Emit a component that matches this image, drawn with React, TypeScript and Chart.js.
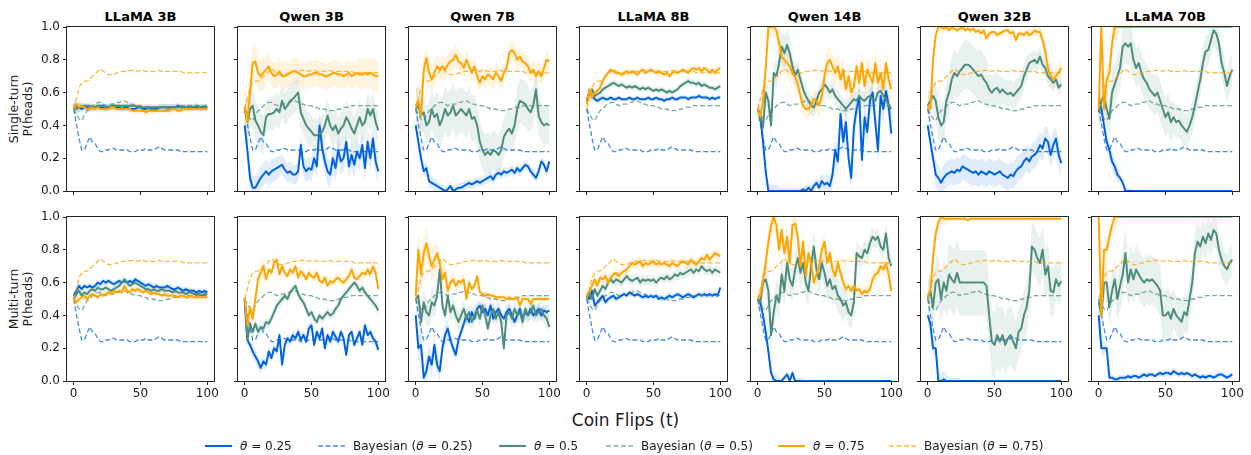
import React, { useEffect, useRef } from 'react';
import { Chart, registerables } from 'chart.js';

Chart.register(...registerables);
Chart.defaults.font.family = "'DejaVu Sans', sans-serif";

// ---------- axis / labels ----------
const FLIPS = [
  0, 2, 4, 6, 8, 10, 12, 14, 16, 18,
  20, 22, 24, 26, 28, 30, 32, 34, 36, 38,
  40, 42, 44, 46, 48, 50, 52, 54, 56, 58,
  60, 62, 64, 66, 68, 70, 72, 74, 76, 78,
  80, 82, 84, 86, 88, 90, 92, 94, 96, 98,
  100,
];
const X_TICKS = [0, 50, 100];
const Y_TICKS = [0, 0.2, 0.4, 0.6, 0.8, 1.0];
const MODELS = ['LLaMA 3B', 'Qwen 3B', 'Qwen 7B', 'LLaMA 8B', 'Qwen 14B', 'Qwen 32B', 'LLaMA 70B'];
const ROW_LABELS = [['Single-turn', 'P(heads)'], ['Multi-turn', 'P(heads)']];
const X_LABEL = 'Coin Flips (t)';

// ---------- Bayesian reference curves (same in every panel) ----------
const BAYES_025 = [
  0.50, 0.41, 0.32, 0.25, 0.25, 0.29, 0.33, 0.30, 0.29, 0.26,
  0.24, 0.24, 0.25, 0.25, 0.26, 0.26, 0.25, 0.25, 0.25, 0.25,
  0.25, 0.24, 0.24, 0.24, 0.25, 0.25, 0.25, 0.26, 0.25, 0.25,
  0.25, 0.26, 0.27, 0.26, 0.25, 0.25, 0.25, 0.25, 0.25, 0.25,
  0.24, 0.24, 0.24, 0.24, 0.24, 0.24, 0.24, 0.24, 0.24, 0.24,
  0.24,
];
const BAYES_050 = [
  0.50, 0.47, 0.44, 0.43, 0.46, 0.49, 0.50, 0.52, 0.53, 0.54,
  0.54, 0.53, 0.52, 0.53, 0.53, 0.53, 0.54, 0.54, 0.55, 0.55,
  0.54, 0.53, 0.53, 0.52, 0.52, 0.52, 0.51, 0.51, 0.50, 0.50,
  0.50, 0.49, 0.49, 0.49, 0.49, 0.50, 0.50, 0.51, 0.51, 0.51,
  0.52, 0.52, 0.52, 0.52, 0.52, 0.52, 0.52, 0.52, 0.52, 0.52,
  0.52,
];
const BAYES_075 = [
  0.50, 0.56, 0.63, 0.66, 0.67, 0.67, 0.68, 0.70, 0.71, 0.73,
  0.745, 0.73, 0.72, 0.71, 0.71, 0.71, 0.72, 0.72, 0.73, 0.73,
  0.73, 0.735, 0.735, 0.735, 0.73, 0.735, 0.735, 0.73, 0.73, 0.73,
  0.73, 0.73, 0.735, 0.73, 0.73, 0.73, 0.73, 0.73, 0.73, 0.73,
  0.73, 0.72, 0.72, 0.72, 0.72, 0.72, 0.72, 0.72, 0.72, 0.72,
  0.72,
];

// ---------- Single-turn ----------
const ST_LLAMA3B_T25 = [
  0.52, 0.51, 0.51, 0.50, 0.51, 0.51, 0.50, 0.51, 0.51, 0.51,
  0.51, 0.51, 0.51, 0.51, 0.51, 0.51, 0.51, 0.51, 0.50, 0.51,
  0.51, 0.50, 0.50, 0.50, 0.51, 0.51, 0.50, 0.50, 0.51, 0.50,
  0.50, 0.50, 0.51, 0.51, 0.51, 0.51, 0.51, 0.51, 0.51, 0.52,
  0.51, 0.51, 0.51, 0.51, 0.51, 0.51, 0.51, 0.51, 0.51, 0.51,
  0.51,
];
const ST_LLAMA3B_T50 = [
  0.52, 0.50, 0.51, 0.52, 0.52, 0.52, 0.52, 0.51, 0.51, 0.52,
  0.52, 0.52, 0.51, 0.51, 0.52, 0.52, 0.52, 0.52, 0.52, 0.52,
  0.52, 0.52, 0.52, 0.52, 0.51, 0.51, 0.51, 0.51, 0.51, 0.51,
  0.51, 0.51, 0.51, 0.51, 0.51, 0.51, 0.51, 0.51, 0.51, 0.51,
  0.51, 0.51, 0.51, 0.51, 0.51, 0.51, 0.52, 0.51, 0.51, 0.51,
  0.51,
];
const ST_LLAMA3B_T75 = [
  0.50, 0.53, 0.51, 0.52, 0.51, 0.50, 0.50, 0.51, 0.50, 0.51,
  0.50, 0.50, 0.50, 0.50, 0.51, 0.51, 0.50, 0.50, 0.50, 0.50,
  0.50, 0.50, 0.49, 0.49, 0.49, 0.49, 0.49, 0.48, 0.49, 0.49,
  0.49, 0.49, 0.49, 0.49, 0.49, 0.49, 0.49, 0.50, 0.50, 0.49,
  0.49, 0.50, 0.50, 0.50, 0.50, 0.50, 0.50, 0.50, 0.50, 0.50,
  0.50,
];
const ST_LLAMA3B_T25_BAND = [0.03, 0.02, 0.02, 0.02, 0.02, 0.02, 0.02, 0.02, 0.02, 0.02, 0.02];
const ST_LLAMA3B_T50_BAND = [0.03, 0.02, 0.02, 0.02, 0.02, 0.02, 0.02, 0.02, 0.02, 0.02, 0.02];
const ST_LLAMA3B_T75_BAND = [0.03, 0.02, 0.02, 0.02, 0.02, 0.02, 0.02, 0.02, 0.02, 0.02, 0.02];

const ST_QWEN3B_T25 = [
  0.40, 0.25, 0.08, 0.02, 0.02, 0.05, 0.08, 0.10, 0.12, 0.10,
  0.12, 0.13, 0.14, 0.15, 0.16, 0.13, 0.11, 0.12, 0.10, 0.10,
  0.12, 0.28, 0.15, 0.12, 0.14, 0.13, 0.20, 0.15, 0.40, 0.26,
  0.18, 0.12, 0.10, 0.20, 0.14, 0.25, 0.18, 0.20, 0.30, 0.15,
  0.22, 0.16, 0.24, 0.20, 0.28, 0.14, 0.30, 0.20, 0.32, 0.18,
  0.12,
];
const ST_QWEN3B_T50 = [
  0.50, 0.42, 0.50, 0.52, 0.43, 0.40, 0.36, 0.34, 0.45, 0.47,
  0.47, 0.48, 0.50, 0.48, 0.55, 0.50, 0.52, 0.55, 0.56, 0.58,
  0.60, 0.48, 0.44, 0.40, 0.38, 0.36, 0.34, 0.34, 0.35, 0.36,
  0.40, 0.46, 0.40, 0.37, 0.40, 0.35, 0.38, 0.40, 0.45, 0.42,
  0.38, 0.35, 0.40, 0.45, 0.40, 0.42, 0.50, 0.46, 0.50, 0.42,
  0.37,
];
const ST_QWEN3B_T75 = [
  0.52, 0.42, 0.60, 0.78, 0.79, 0.72, 0.70, 0.72, 0.74, 0.76,
  0.72, 0.70, 0.71, 0.73, 0.70, 0.70, 0.71, 0.72, 0.73, 0.73,
  0.72, 0.71, 0.70, 0.70, 0.71, 0.71, 0.72, 0.72, 0.71, 0.71,
  0.70, 0.70, 0.71, 0.72, 0.72, 0.71, 0.71, 0.70, 0.71, 0.72,
  0.70, 0.71, 0.72, 0.71, 0.71, 0.72, 0.71, 0.72, 0.71, 0.70,
  0.70,
];
const ST_QWEN3B_T25_BAND = [0.06, 0.07, 0.07, 0.06, 0.06, 0.07, 0.08, 0.08, 0.08, 0.08, 0.08];
const ST_QWEN3B_T50_BAND = [0.12, 0.12, 0.1, 0.1, 0.1, 0.1, 0.1, 0.1, 0.1, 0.1, 0.1];
const ST_QWEN3B_T75_BAND = [0.15, 0.1, 0.08, 0.08, 0.08, 0.08, 0.08, 0.08, 0.08, 0.09, 0.1];

const ST_QWEN7B_T25 = [
  0.40, 0.30, 0.20, 0.12, 0.14, 0.06, 0.05, 0.04, 0.03, 0.02,
  0.01, 0.00, 0.01, 0.03, 0.00, 0.01, 0.02, 0.02, 0.03, 0.04,
  0.05, 0.04, 0.05, 0.06, 0.05, 0.06, 0.07, 0.08, 0.09, 0.07,
  0.10, 0.11, 0.10, 0.12, 0.11, 0.12, 0.13, 0.11, 0.14, 0.12,
  0.14, 0.16, 0.15, 0.12, 0.10, 0.08, 0.12, 0.18, 0.16, 0.12,
  0.18,
];
const ST_QWEN7B_T50 = [
  0.50, 0.52, 0.46, 0.48, 0.40, 0.42, 0.50, 0.45, 0.47, 0.40,
  0.44, 0.50, 0.46, 0.48, 0.52, 0.46, 0.48, 0.50, 0.48, 0.46,
  0.50, 0.44, 0.45, 0.40, 0.30, 0.25, 0.22, 0.24, 0.22, 0.25,
  0.24, 0.22, 0.25, 0.33, 0.36, 0.38, 0.35, 0.40, 0.50, 0.55,
  0.54, 0.53, 0.50, 0.48, 0.52, 0.62, 0.46, 0.42, 0.40, 0.41,
  0.40,
];
const ST_QWEN7B_T75 = [
  0.52, 0.55, 0.46, 0.74, 0.81, 0.72, 0.68, 0.72, 0.76, 0.74,
  0.76, 0.74, 0.77, 0.79, 0.80, 0.83, 0.79, 0.78, 0.75, 0.80,
  0.76, 0.72, 0.76, 0.70, 0.66, 0.70, 0.68, 0.71, 0.70, 0.68,
  0.72, 0.70, 0.67, 0.72, 0.75, 0.84, 0.86, 0.84, 0.80, 0.82,
  0.79, 0.78, 0.76, 0.72, 0.74, 0.70, 0.73, 0.70, 0.75, 0.80,
  0.79,
];
const ST_QWEN7B_T25_BAND = [0.05, 0.04, 0.03, 0.03, 0.03, 0.03, 0.03, 0.03, 0.03, 0.03, 0.03];
const ST_QWEN7B_T50_BAND = [0.12, 0.12, 0.14, 0.14, 0.14, 0.12, 0.12, 0.12, 0.14, 0.12, 0.12];
const ST_QWEN7B_T75_BAND = [0.1, 0.08, 0.07, 0.07, 0.06, 0.06, 0.06, 0.06, 0.06, 0.06, 0.06];

const ST_LLAMA8B_T25 = [
  0.55, 0.60, 0.58, 0.56, 0.55, 0.56, 0.57, 0.56, 0.56, 0.57,
  0.56, 0.56, 0.57, 0.56, 0.56, 0.56, 0.57, 0.56, 0.56, 0.57,
  0.56, 0.56, 0.56, 0.57, 0.56, 0.56, 0.57, 0.56, 0.56, 0.55,
  0.56, 0.56, 0.57, 0.56, 0.56, 0.57, 0.57, 0.57, 0.56, 0.57,
  0.57, 0.57, 0.58, 0.57, 0.57, 0.57, 0.56, 0.57, 0.56, 0.57,
  0.57,
];
const ST_LLAMA8B_T50 = [
  0.55, 0.60, 0.62, 0.58, 0.59, 0.60, 0.62, 0.63, 0.64, 0.65,
  0.66, 0.65, 0.64, 0.65, 0.64, 0.63, 0.64, 0.63, 0.64, 0.63,
  0.62, 0.63, 0.62, 0.63, 0.62, 0.61, 0.62, 0.61, 0.62, 0.61,
  0.60, 0.61, 0.60, 0.61, 0.62, 0.64, 0.65, 0.66, 0.67, 0.66,
  0.66, 0.65, 0.66, 0.64, 0.65, 0.64, 0.63, 0.63, 0.62, 0.63,
  0.64,
];
const ST_LLAMA8B_T75 = [
  0.53, 0.62, 0.57, 0.60, 0.61, 0.63, 0.67, 0.70, 0.72, 0.74,
  0.73, 0.72, 0.72, 0.71, 0.72, 0.73, 0.72, 0.73, 0.72, 0.71,
  0.73, 0.74, 0.72, 0.73, 0.74, 0.73, 0.72, 0.73, 0.72, 0.71,
  0.72, 0.70, 0.72, 0.73, 0.72, 0.73, 0.74, 0.73, 0.72, 0.74,
  0.75, 0.74, 0.75, 0.73, 0.75, 0.74, 0.72, 0.74, 0.72, 0.74,
  0.75,
];
const ST_LLAMA8B_T25_BAND = [0.03, 0.02, 0.015, 0.015, 0.015, 0.015, 0.015, 0.015, 0.015, 0.015, 0.015];
const ST_LLAMA8B_T50_BAND = [0.03, 0.025, 0.02, 0.02, 0.02, 0.02, 0.02, 0.02, 0.02, 0.02, 0.02];
const ST_LLAMA8B_T75_BAND = [0.03, 0.02, 0.02, 0.02, 0.02, 0.02, 0.02, 0.02, 0.02, 0.02, 0.02];

const ST_QWEN14B_T25 = [
  0.50, 0.46, 0.30, 0.12, 0.00, 0.00, 0.00, 0.00, 0.00, 0.00,
  0.00, 0.00, 0.00, 0.00, 0.00, 0.00, 0.00, 0.01, 0.00, 0.02,
  0.00, 0.03, 0.05, 0.02, 0.06, 0.04, 0.05, 0.03, 0.10, 0.25,
  0.18, 0.47, 0.30, 0.42, 0.20, 0.08, 0.39, 0.50, 0.57, 0.19,
  0.45, 0.36, 0.55, 0.60, 0.42, 0.25, 0.58, 0.50, 0.61, 0.52,
  0.35,
];
const ST_QWEN14B_T50 = [
  0.50, 0.45, 0.39, 0.60, 0.55, 0.40, 0.72, 0.70, 0.78, 0.88,
  0.84, 0.89, 0.84, 0.76, 0.70, 0.74, 0.68, 0.62, 0.58, 0.55,
  0.52, 0.51, 0.55, 0.60, 0.62, 0.65, 0.63, 0.60, 0.62, 0.58,
  0.56, 0.54, 0.52, 0.50, 0.52, 0.54, 0.56, 0.55, 0.58, 0.56,
  0.55, 0.57, 0.58, 0.56, 0.55, 0.60, 0.61, 0.58, 0.56, 0.52,
  0.50,
];
const ST_QWEN14B_T75 = [
  0.50, 0.45, 0.55, 0.75, 1.00, 1.00, 1.00, 0.98, 0.90, 0.82,
  0.80, 0.78, 0.76, 0.72, 0.70, 0.65, 0.58, 0.52, 0.50, 0.50,
  0.52, 0.56, 0.55, 0.52, 0.58, 0.70, 0.78, 0.80, 0.76, 0.72,
  0.76, 0.68, 0.74, 0.62, 0.70, 0.60, 0.64, 0.76, 0.66, 0.78,
  0.64, 0.74, 0.70, 0.66, 0.78, 0.66, 0.72, 0.62, 0.78, 0.68,
  0.62,
];
const ST_QWEN14B_T25_BAND = [0.04, 0.04, 0.02, 0.02, 0.03, 0.05, 0.08, 0.08, 0.08, 0.08, 0.08];
const ST_QWEN14B_T50_BAND = [0.06, 0.08, 0.1, 0.06, 0.06, 0.05, 0.05, 0.05, 0.05, 0.05, 0.05];
const ST_QWEN14B_T75_BAND = [0.06, 0.06, 0.08, 0.06, 0.06, 0.08, 0.08, 0.08, 0.08, 0.08, 0.08];

const ST_QWEN32B_T25 = [
  0.40, 0.30, 0.20, 0.10, 0.08, 0.05, 0.08, 0.10, 0.11, 0.12,
  0.11, 0.13, 0.12, 0.15, 0.14, 0.13, 0.12, 0.11, 0.12, 0.10,
  0.12, 0.11, 0.10, 0.12, 0.11, 0.10, 0.11, 0.12, 0.10, 0.09,
  0.08, 0.10, 0.09, 0.12, 0.14, 0.15, 0.18, 0.20, 0.18, 0.21,
  0.22, 0.24, 0.28, 0.26, 0.32, 0.30, 0.22, 0.28, 0.32, 0.22,
  0.17,
];
const ST_QWEN32B_T50 = [
  0.52, 0.55, 0.58, 0.55, 0.45, 0.40, 0.42, 0.55, 0.60, 0.68,
  0.72, 0.70, 0.73, 0.75, 0.77, 0.77, 0.76, 0.74, 0.72, 0.70,
  0.71, 0.68, 0.66, 0.62, 0.60, 0.62, 0.63, 0.60, 0.62, 0.60,
  0.59, 0.60, 0.58, 0.60, 0.62, 0.64, 0.70, 0.74, 0.78, 0.79,
  0.80, 0.78, 0.82, 0.77, 0.75, 0.70, 0.68, 0.66, 0.68, 0.63,
  0.65,
];
const ST_QWEN32B_T75 = [
  0.52, 0.50, 0.80, 0.95, 1.00, 1.00, 0.99, 1.00, 0.98, 1.00,
  0.99, 0.98, 0.99, 1.00, 0.98, 0.99, 0.98, 0.99, 0.97, 0.98,
  0.96, 0.98, 0.93, 0.96, 0.97, 0.97, 0.95, 0.96, 0.97, 0.98,
  0.98, 0.96, 0.97, 0.92, 0.96, 0.96, 0.95, 0.97, 0.95, 0.96,
  0.98, 0.97, 0.97, 0.92, 0.85, 0.75, 0.70, 0.68, 0.70, 0.72,
  0.75,
];
const ST_QWEN32B_T25_BAND = [0.05, 0.08, 0.08, 0.08, 0.08, 0.08, 0.08, 0.08, 0.08, 0.08, 0.08];
const ST_QWEN32B_T50_BAND = [0.08, 0.12, 0.14, 0.15, 0.15, 0.1, 0.08, 0.08, 0.06, 0.06, 0.05];
const ST_QWEN32B_T75_BAND = [0.1, 0.03, 0.02, 0.02, 0.02, 0.02, 0.02, 0.02, 0.03, 0.06, 0.06];

const ST_LLAMA70B_T25 = [
  0.57, 0.50, 0.40, 0.30, 0.25, 0.18, 0.15, 0.10, 0.08, 0.05,
  0.00, 0.00, 0.00, 0.00, 0.00, 0.00, 0.00, 0.00, 0.00, 0.00,
  0.00, 0.00, 0.00, 0.00, 0.00, 0.00, 0.00, 0.00, 0.00, 0.00,
  0.00, 0.00, 0.00, 0.00, 0.00, 0.00, 0.00, 0.00, 0.00, 0.00,
  0.00, 0.00, 0.00, 0.00, 0.00, 0.00, 0.00, 0.00, 0.00, 0.00,
  0.00,
];
const ST_LLAMA70B_T50 = [
  0.48, 0.55, 0.58, 0.50, 0.44, 0.60, 0.65, 0.70, 0.75, 0.88,
  0.90, 0.88, 0.90, 0.80, 0.75, 0.78, 0.72, 0.68, 0.66, 0.62,
  0.60, 0.58, 0.60, 0.55, 0.50, 0.45, 0.48, 0.42, 0.45, 0.42,
  0.43, 0.40, 0.38, 0.36, 0.40, 0.45, 0.52, 0.60, 0.68, 0.78,
  0.85, 0.86, 0.92, 0.98, 0.96, 0.90, 0.78, 0.72, 0.64, 0.70,
  0.74,
];
const ST_LLAMA70B_T75 = [
  0.50, 1.00, 0.50, 0.68, 0.72, 0.90, 1.00, 1.00, 1.00, 1.00,
  1.00, 1.00, 1.00, 1.00, 1.00, 1.00, 1.00, 1.00, 1.00, 1.00,
  1.00, 1.00, 1.00, 1.00, 1.00, 1.00, 1.00, 1.00, 1.00, 1.00,
  1.00, 1.00, 1.00, 1.00, 1.00, 1.00, 1.00, 1.00, 1.00, 1.00,
  1.00, 1.00, 1.00, 1.00, 1.00, 1.00, 1.00, 1.00, 1.00, 1.00,
  1.00,
];
const ST_LLAMA70B_T25_BAND = [0.05, 0.05, 0.02, 0, 0, 0, 0, 0, 0, 0, 0];
const ST_LLAMA70B_T50_BAND = [0.1, 0.12, 0.12, 0.12, 0.12, 0.12, 0.1, 0.1, 0.1, 0.1, 0.1];
const ST_LLAMA70B_T75_BAND = [0.1, 0.08, 0, 0, 0, 0, 0, 0, 0, 0, 0];

// ---------- Multi-turn ----------
const MT_LLAMA3B_T25 = [
  0.52, 0.55, 0.58, 0.56, 0.58, 0.57, 0.58, 0.57, 0.58, 0.60,
  0.59, 0.61, 0.60, 0.61, 0.60, 0.59, 0.60, 0.61, 0.60, 0.61,
  0.60, 0.61, 0.60, 0.62, 0.61, 0.60, 0.59, 0.58, 0.59, 0.58,
  0.57, 0.58, 0.57, 0.57, 0.57, 0.58, 0.57, 0.56, 0.56, 0.57,
  0.56, 0.55, 0.56, 0.55, 0.55, 0.55, 0.54, 0.55, 0.54, 0.55,
  0.54,
];
const MT_LLAMA3B_T50 = [
  0.50, 0.53, 0.55, 0.52, 0.54, 0.53, 0.55, 0.56, 0.55, 0.57,
  0.56, 0.56, 0.57, 0.56, 0.55, 0.56, 0.57, 0.58, 0.60, 0.62,
  0.60, 0.58, 0.59, 0.60, 0.59, 0.58, 0.57, 0.56, 0.56, 0.55,
  0.56, 0.55, 0.55, 0.56, 0.55, 0.55, 0.55, 0.54, 0.55, 0.54,
  0.54, 0.54, 0.53, 0.54, 0.54, 0.53, 0.53, 0.53, 0.52, 0.53,
  0.53,
];
const MT_LLAMA3B_T75 = [
  0.50, 0.48, 0.50, 0.51, 0.52, 0.50, 0.52, 0.53, 0.52, 0.51,
  0.53, 0.52, 0.53, 0.54, 0.53, 0.55, 0.54, 0.55, 0.54, 0.58,
  0.55, 0.54, 0.56, 0.55, 0.56, 0.55, 0.54, 0.55, 0.54, 0.53,
  0.54, 0.53, 0.53, 0.52, 0.53, 0.52, 0.52, 0.52, 0.52, 0.51,
  0.52, 0.52, 0.51, 0.51, 0.52, 0.51, 0.51, 0.51, 0.51, 0.51,
  0.51,
];
const MT_LLAMA3B_T25_BAND = [0.03, 0.02, 0.02, 0.02, 0.02, 0.02, 0.02, 0.02, 0.02, 0.02, 0.02];
const MT_LLAMA3B_T50_BAND = [0.03, 0.02, 0.02, 0.02, 0.02, 0.02, 0.02, 0.02, 0.02, 0.02, 0.02];
const MT_LLAMA3B_T75_BAND = [0.03, 0.02, 0.02, 0.02, 0.02, 0.02, 0.02, 0.02, 0.02, 0.02, 0.02];

const MT_QWEN3B_T25 = [
  0.50, 0.25, 0.22, 0.18, 0.15, 0.12, 0.08, 0.12, 0.10, 0.18,
  0.14, 0.20, 0.18, 0.28, 0.10, 0.22, 0.26, 0.24, 0.28, 0.26,
  0.30, 0.25, 0.28, 0.24, 0.32, 0.34, 0.22, 0.30, 0.26, 0.32,
  0.20, 0.28, 0.24, 0.30, 0.27, 0.24, 0.30, 0.26, 0.16, 0.28,
  0.30, 0.22, 0.26, 0.30, 0.22, 0.34, 0.28, 0.30, 0.26, 0.24,
  0.19,
];
const MT_QWEN3B_T50 = [
  0.50, 0.25, 0.35, 0.30, 0.35, 0.30, 0.33, 0.32, 0.36, 0.35,
  0.38, 0.42, 0.46, 0.48, 0.50, 0.52, 0.50, 0.54, 0.56, 0.58,
  0.53, 0.50, 0.48, 0.44, 0.40, 0.42, 0.38, 0.36, 0.40, 0.38,
  0.40, 0.42, 0.40, 0.41, 0.44, 0.46, 0.50, 0.52, 0.54, 0.56,
  0.58, 0.60, 0.58, 0.55, 0.57, 0.54, 0.52, 0.50, 0.48, 0.46,
  0.43,
];
const MT_QWEN3B_T75 = [
  0.51, 0.34, 0.45, 0.38, 0.50, 0.62, 0.66, 0.70, 0.62, 0.68,
  0.66, 0.72, 0.74, 0.65, 0.70, 0.66, 0.64, 0.68, 0.66, 0.70,
  0.63, 0.67, 0.65, 0.62, 0.66, 0.64, 0.63, 0.66, 0.61, 0.60,
  0.63, 0.58, 0.61, 0.60, 0.62, 0.63, 0.61, 0.60, 0.62, 0.64,
  0.68, 0.63, 0.62, 0.64, 0.66, 0.65, 0.68, 0.65, 0.70, 0.66,
  0.56,
];
const MT_QWEN3B_T25_BAND = [0.03, 0.04, 0.03, 0.03, 0.03, 0.03, 0.03, 0.03, 0.03, 0.03, 0.03];
const MT_QWEN3B_T50_BAND = [0.04, 0.04, 0.03, 0.03, 0.03, 0.03, 0.03, 0.03, 0.03, 0.03, 0.03];
const MT_QWEN3B_T75_BAND = [0.04, 0.05, 0.03, 0.03, 0.03, 0.03, 0.03, 0.03, 0.03, 0.03, 0.03];

const MT_QWEN7B_T25 = [
  0.40, 0.20, 0.22, 0.02, 0.06, 0.15, 0.10, 0.22, 0.10, 0.06,
  0.20, 0.28, 0.32, 0.25, 0.20, 0.16, 0.25, 0.30, 0.35, 0.40,
  0.36, 0.42, 0.38, 0.44, 0.46, 0.42, 0.44, 0.40, 0.46, 0.38,
  0.42, 0.44, 0.40, 0.38, 0.42, 0.44, 0.40, 0.36, 0.40, 0.44,
  0.38, 0.42, 0.40, 0.44, 0.40, 0.42, 0.44, 0.40, 0.43, 0.42,
  0.43,
];
const MT_QWEN7B_T50 = [
  0.50, 0.52, 0.36, 0.48, 0.42, 0.40, 0.48, 0.46, 0.52, 0.68,
  0.46, 0.40, 0.52, 0.42, 0.46, 0.40, 0.36, 0.40, 0.44, 0.38,
  0.42, 0.36, 0.40, 0.43, 0.38, 0.46, 0.40, 0.32, 0.40, 0.44,
  0.38, 0.42, 0.36, 0.20, 0.40, 0.42, 0.38, 0.44, 0.40, 0.42,
  0.36, 0.44, 0.40, 0.42, 0.46, 0.40, 0.42, 0.44, 0.40, 0.38,
  0.33,
];
const MT_QWEN7B_T75 = [
  0.52, 0.80, 0.65, 0.78, 0.84, 0.76, 0.70, 0.74, 0.78, 0.72,
  0.62, 0.66, 0.55, 0.60, 0.62, 0.58, 0.61, 0.60, 0.62, 0.50,
  0.60, 0.56, 0.58, 0.64, 0.54, 0.53, 0.52, 0.53, 0.52, 0.52,
  0.51, 0.51, 0.51, 0.51, 0.50, 0.51, 0.50, 0.50, 0.51, 0.46,
  0.50, 0.50, 0.50, 0.47, 0.50, 0.50, 0.50, 0.50, 0.50, 0.50,
  0.50,
];
const MT_QWEN7B_T25_BAND = [0.08, 0.08, 0.06, 0.04, 0.04, 0.04, 0.04, 0.04, 0.04, 0.04, 0.04];
const MT_QWEN7B_T50_BAND = [0.1, 0.08, 0.06, 0.06, 0.05, 0.05, 0.05, 0.05, 0.05, 0.05, 0.05];
const MT_QWEN7B_T75_BAND = [0.12, 0.1, 0.06, 0.04, 0.03, 0.02, 0.02, 0.02, 0.02, 0.02, 0.02];

const MT_LLAMA8B_T25 = [
  0.52, 0.50, 0.55, 0.46, 0.48, 0.50, 0.52, 0.48, 0.50, 0.51,
  0.52, 0.50, 0.51, 0.52, 0.53, 0.52, 0.54, 0.53, 0.52, 0.53,
  0.52, 0.51, 0.52, 0.51, 0.52, 0.51, 0.52, 0.50, 0.51, 0.50,
  0.51, 0.52, 0.51, 0.52, 0.53, 0.52, 0.51, 0.52, 0.53, 0.52,
  0.51, 0.52, 0.53, 0.52, 0.53, 0.52, 0.53, 0.52, 0.53, 0.52,
  0.57,
];
const MT_LLAMA8B_T50 = [
  0.50, 0.54, 0.50, 0.56, 0.52, 0.55, 0.58, 0.56, 0.60, 0.62,
  0.60, 0.62, 0.61, 0.60, 0.62, 0.64, 0.62, 0.61, 0.62, 0.63,
  0.60, 0.62, 0.61, 0.62, 0.61, 0.62, 0.60, 0.62, 0.63, 0.62,
  0.64, 0.62, 0.63, 0.65, 0.64, 0.66, 0.65, 0.66, 0.67, 0.68,
  0.66, 0.68, 0.67, 0.70, 0.68, 0.67, 0.68, 0.66, 0.68, 0.67,
  0.66,
];
const MT_LLAMA8B_T75 = [
  0.52, 0.55, 0.58, 0.62, 0.58, 0.63, 0.62, 0.64, 0.60, 0.63,
  0.65, 0.66, 0.64, 0.66, 0.67, 0.68, 0.70, 0.72, 0.71, 0.72,
  0.73, 0.70, 0.72, 0.71, 0.72, 0.73, 0.71, 0.72, 0.71, 0.72,
  0.71, 0.70, 0.72, 0.71, 0.70, 0.72, 0.73, 0.72, 0.71, 0.74,
  0.72, 0.71, 0.73, 0.75, 0.74, 0.77, 0.74, 0.76, 0.78, 0.77,
  0.76,
];
const MT_LLAMA8B_T25_BAND = [0.03, 0.02, 0.02, 0.02, 0.02, 0.02, 0.02, 0.02, 0.02, 0.02, 0.02];
const MT_LLAMA8B_T50_BAND = [0.03, 0.03, 0.03, 0.03, 0.03, 0.03, 0.03, 0.03, 0.03, 0.03, 0.03];
const MT_LLAMA8B_T75_BAND = [0.03, 0.03, 0.03, 0.03, 0.03, 0.03, 0.03, 0.03, 0.03, 0.03, 0.03];

const MT_QWEN14B_T25 = [
  0.50, 0.48, 0.40, 0.30, 0.18, 0.05, 0.01, 0.00, 0.00, 0.00,
  0.02, 0.04, 0.00, 0.05, 0.00, 0.00, 0.00, 0.00, 0.00, 0.00,
  0.00, 0.00, 0.00, 0.00, 0.00, 0.00, 0.00, 0.00, 0.00, 0.00,
  0.00, 0.00, 0.00, 0.00, 0.00, 0.00, 0.00, 0.00, 0.00, 0.00,
  0.00, 0.00, 0.00, 0.00, 0.00, 0.00, 0.00, 0.00, 0.00, 0.00,
  0.00,
];
const MT_QWEN14B_T50 = [
  0.50, 0.48, 0.60, 0.62, 0.55, 0.28, 0.42, 0.52, 0.48, 0.65,
  0.55, 0.72, 0.62, 0.58, 0.68, 0.75, 0.66, 0.72, 0.60, 0.55,
  0.70, 0.82, 0.68, 0.62, 0.72, 0.66, 0.58, 0.62, 0.56, 0.58,
  0.52, 0.50, 0.46, 0.48, 0.42, 0.40, 0.48, 0.78, 0.76, 0.75,
  0.80, 0.78, 0.84, 0.88, 0.86, 0.88, 0.82, 0.80, 0.90, 0.75,
  0.70,
];
const MT_QWEN14B_T75 = [
  0.50, 0.52, 0.62, 0.72, 0.85, 0.95, 1.00, 0.95, 0.80, 0.92,
  0.78, 0.88, 0.72, 0.95, 0.96, 0.88, 0.70, 0.85, 0.64, 0.78,
  0.72, 0.60, 0.65, 0.70, 0.80, 0.85, 0.72, 0.78, 0.68, 0.64,
  0.72, 0.66, 0.60, 0.56, 0.58, 0.55, 0.58, 0.55, 0.56, 0.53,
  0.55, 0.54, 0.56, 0.62, 0.65, 0.66, 0.70, 0.68, 0.72, 0.65,
  0.55,
];
const MT_QWEN14B_T25_BAND = [0.04, 0.04, 0.02, 0.02, 0, 0, 0, 0, 0, 0, 0];
const MT_QWEN14B_T50_BAND = [0.05, 0.1, 0.1, 0.1, 0.1, 0.1, 0.1, 0.08, 0.06, 0.06, 0.06];
const MT_QWEN14B_T75_BAND = [0.05, 0.08, 0.08, 0.08, 0.06, 0.05, 0.05, 0.04, 0.04, 0.04, 0.06];

const MT_QWEN32B_T25 = [
  0.40, 0.35, 0.20, 0.20, 0.00, 0.00, 0.01, 0.00, 0.00, 0.00,
  0.00, 0.00, 0.00, 0.00, 0.00, 0.00, 0.00, 0.00, 0.00, 0.00,
  0.00, 0.00, 0.00, 0.00, 0.00, 0.00, 0.00, 0.00, 0.00, 0.00,
  0.00, 0.00, 0.00, 0.00, 0.00, 0.00, 0.00, 0.00, 0.00, 0.00,
  0.00, 0.00, 0.00, 0.00, 0.00, 0.00, 0.00, 0.00, 0.00, 0.00,
  0.00,
];
const MT_QWEN32B_T50 = [
  0.50, 0.55, 0.45, 0.60, 0.62, 0.50, 0.60, 0.55, 0.65, 0.62,
  0.60, 0.66, 0.60, 0.60, 0.60, 0.60, 0.60, 0.60, 0.60, 0.60,
  0.60, 0.60, 0.58, 0.40, 0.24, 0.22, 0.28, 0.24, 0.28, 0.22,
  0.26, 0.28, 0.24, 0.20, 0.30, 0.32, 0.40, 0.45, 0.55, 0.82,
  0.80, 0.75, 0.72, 0.80, 0.65, 0.70, 0.55, 0.54, 0.62, 0.58,
  0.61,
];
const MT_QWEN32B_T75 = [
  0.52, 0.55, 0.75, 0.90, 0.97, 1.00, 0.99, 0.99, 0.99, 0.99,
  0.99, 0.99, 0.99, 0.99, 0.99, 0.98, 0.99, 0.99, 0.99, 0.99,
  0.99, 0.99, 0.99, 0.99, 0.99, 0.99, 0.99, 0.99, 0.99, 0.99,
  0.99, 0.99, 0.99, 0.99, 0.99, 0.99, 0.99, 0.99, 0.99, 0.99,
  0.99, 0.99, 0.99, 0.99, 0.99, 0.99, 0.99, 0.99, 0.99, 0.99,
  0.99,
];
const MT_QWEN32B_T25_BAND = [0.05, 0.05, 0.02, 0, 0, 0, 0, 0, 0, 0, 0];
const MT_QWEN32B_T50_BAND = [0.1, 0.15, 0.2, 0.2, 0.2, 0.2, 0.18, 0.15, 0.15, 0.15, 0.12];
const MT_QWEN32B_T75_BAND = [0.1, 0.04, 0.01, 0.01, 0.01, 0.01, 0.01, 0.01, 0.01, 0.01, 0.01];

const MT_LLAMA70B_T25 = [
  0.40, 0.20, 0.20, 0.20, 0.02, 0.02, 0.01, 0.01, 0.02, 0.02,
  0.02, 0.03, 0.02, 0.03, 0.03, 0.02, 0.03, 0.04, 0.03, 0.04,
  0.04, 0.03, 0.04, 0.05, 0.04, 0.05, 0.05, 0.04, 0.06, 0.05,
  0.04, 0.05, 0.04, 0.05, 0.04, 0.03, 0.04, 0.03, 0.02, 0.03,
  0.02, 0.03, 0.03, 0.02, 0.03, 0.04, 0.04, 0.03, 0.02, 0.03,
  0.04,
];
const MT_LLAMA70B_T50 = [
  0.48, 0.40, 0.60, 0.60, 0.45, 0.55, 0.62, 0.50, 0.58, 0.65,
  0.78, 0.60, 0.68, 0.62, 0.68, 0.65, 0.62, 0.60, 0.62, 0.61,
  0.62, 0.60, 0.58, 0.55, 0.40, 0.40, 0.42, 0.38, 0.44, 0.40,
  0.38, 0.36, 0.42, 0.40, 0.50, 0.60, 0.78, 0.85, 0.82, 0.88,
  0.84, 0.90, 0.86, 0.92, 0.90, 0.80, 0.74, 0.70, 0.68, 0.72,
  0.74,
];
const MT_LLAMA70B_T75 = [
  1.00, 0.40, 0.80, 0.80, 0.88, 0.95, 1.00, 1.00, 1.00, 1.00,
  1.00, 1.00, 1.00, 1.00, 1.00, 1.00, 1.00, 1.00, 1.00, 1.00,
  1.00, 1.00, 1.00, 1.00, 1.00, 1.00, 1.00, 1.00, 1.00, 1.00,
  1.00, 1.00, 1.00, 1.00, 1.00, 1.00, 1.00, 1.00, 1.00, 1.00,
  1.00, 1.00, 1.00, 1.00, 1.00, 1.00, 1.00, 1.00, 1.00, 1.00,
  1.00,
];
const MT_LLAMA70B_T25_BAND = [0.05, 0.02, 0.02, 0.02, 0.02, 0.02, 0.02, 0.02, 0.02, 0.02, 0.02];
const MT_LLAMA70B_T50_BAND = [0.1, 0.12, 0.15, 0.15, 0.15, 0.15, 0.12, 0.12, 0.1, 0.1, 0.1];
const MT_LLAMA70B_T75_BAND = [0.1, 0.06, 0, 0, 0, 0, 0, 0, 0, 0, 0];

// ---------- tables built from the arrays ----------
type Series = { mean: number[]; band: number[] };
type PanelData = { t25: Series; t50: Series; t75: Series };
const S = (mean: number[], band: number[]): Series => ({ mean, band });

const PANELS: PanelData[][] = [
  [
    { t25: S(ST_LLAMA3B_T25, ST_LLAMA3B_T25_BAND), t50: S(ST_LLAMA3B_T50, ST_LLAMA3B_T50_BAND), t75: S(ST_LLAMA3B_T75, ST_LLAMA3B_T75_BAND) },
    { t25: S(ST_QWEN3B_T25, ST_QWEN3B_T25_BAND), t50: S(ST_QWEN3B_T50, ST_QWEN3B_T50_BAND), t75: S(ST_QWEN3B_T75, ST_QWEN3B_T75_BAND) },
    { t25: S(ST_QWEN7B_T25, ST_QWEN7B_T25_BAND), t50: S(ST_QWEN7B_T50, ST_QWEN7B_T50_BAND), t75: S(ST_QWEN7B_T75, ST_QWEN7B_T75_BAND) },
    { t25: S(ST_LLAMA8B_T25, ST_LLAMA8B_T25_BAND), t50: S(ST_LLAMA8B_T50, ST_LLAMA8B_T50_BAND), t75: S(ST_LLAMA8B_T75, ST_LLAMA8B_T75_BAND) },
    { t25: S(ST_QWEN14B_T25, ST_QWEN14B_T25_BAND), t50: S(ST_QWEN14B_T50, ST_QWEN14B_T50_BAND), t75: S(ST_QWEN14B_T75, ST_QWEN14B_T75_BAND) },
    { t25: S(ST_QWEN32B_T25, ST_QWEN32B_T25_BAND), t50: S(ST_QWEN32B_T50, ST_QWEN32B_T50_BAND), t75: S(ST_QWEN32B_T75, ST_QWEN32B_T75_BAND) },
    { t25: S(ST_LLAMA70B_T25, ST_LLAMA70B_T25_BAND), t50: S(ST_LLAMA70B_T50, ST_LLAMA70B_T50_BAND), t75: S(ST_LLAMA70B_T75, ST_LLAMA70B_T75_BAND) },
  ],
  [
    { t25: S(MT_LLAMA3B_T25, MT_LLAMA3B_T25_BAND), t50: S(MT_LLAMA3B_T50, MT_LLAMA3B_T50_BAND), t75: S(MT_LLAMA3B_T75, MT_LLAMA3B_T75_BAND) },
    { t25: S(MT_QWEN3B_T25, MT_QWEN3B_T25_BAND), t50: S(MT_QWEN3B_T50, MT_QWEN3B_T50_BAND), t75: S(MT_QWEN3B_T75, MT_QWEN3B_T75_BAND) },
    { t25: S(MT_QWEN7B_T25, MT_QWEN7B_T25_BAND), t50: S(MT_QWEN7B_T50, MT_QWEN7B_T50_BAND), t75: S(MT_QWEN7B_T75, MT_QWEN7B_T75_BAND) },
    { t25: S(MT_LLAMA8B_T25, MT_LLAMA8B_T25_BAND), t50: S(MT_LLAMA8B_T50, MT_LLAMA8B_T50_BAND), t75: S(MT_LLAMA8B_T75, MT_LLAMA8B_T75_BAND) },
    { t25: S(MT_QWEN14B_T25, MT_QWEN14B_T25_BAND), t50: S(MT_QWEN14B_T50, MT_QWEN14B_T50_BAND), t75: S(MT_QWEN14B_T75, MT_QWEN14B_T75_BAND) },
    { t25: S(MT_QWEN32B_T25, MT_QWEN32B_T25_BAND), t50: S(MT_QWEN32B_T50, MT_QWEN32B_T50_BAND), t75: S(MT_QWEN32B_T75, MT_QWEN32B_T75_BAND) },
    { t25: S(MT_LLAMA70B_T25, MT_LLAMA70B_T25_BAND), t50: S(MT_LLAMA70B_T50, MT_LLAMA70B_T50_BAND), t75: S(MT_LLAMA70B_T75, MT_LLAMA70B_T75_BAND) },
  ],
];

// ---------- styling ----------
const FONT = "'DejaVu Sans', sans-serif";
const AXIS_COLOR = '#262626';
const THEMES = {
  t25: { solid: '#0064E0', dashed: 'rgba(0,100,224,0.75)', fill: 'rgba(0,100,224,0.12)' },
  t50: { solid: '#4E8C7D', dashed: 'rgba(78,140,125,0.75)', fill: 'rgba(78,140,125,0.12)' },
  t75: { solid: '#FFA500', dashed: 'rgba(255,165,0,0.8)', fill: 'rgba(255,165,0,0.13)' },
};

const PANEL_LEFT = [67, 238, 409, 580, 751, 921, 1092];
const PANEL_TOP = [27, 217];
const PANEL_W = 147;
const PANEL_H = 164;
const PAD_L = 45;
const PAD_T = 10;
const PAD_R = 12;
const PAD_B = 26;

const framePlugin = {
  id: 'frame',
  afterDraw(chart: any) {
    const { ctx, chartArea: a } = chart;
    ctx.save();
    ctx.strokeStyle = AXIS_COLOR;
    ctx.lineWidth = 1;
    ctx.strokeRect(a.left - 0.5, a.top - 0.5, a.right - a.left + 1, a.bottom - a.top + 1);
    ctx.restore();
  },
};

function buildConfig(row: number, col: number): any {
  const p = PANELS[row][col];
  const pts = (arr: number[]) => FLIPS.map((t, i) => ({ x: t, y: arr[i] }));
  const edge = (s: Series, sign: number) =>
    FLIPS.map((t, i) => ({ x: t, y: s.mean[i] + sign * s.band[Math.round(t / 10)] }));
  const specs = [
    { s: p.t25, bayes: BAYES_025, th: THEMES.t25, order: 9 },
    { s: p.t50, bayes: BAYES_050, th: THEMES.t50, order: 7 },
    { s: p.t75, bayes: BAYES_075, th: THEMES.t75, order: 5 },
  ];
  const datasets: any[] = [];
  specs.forEach(({ s, bayes, th, order }) => {
    datasets.push({ data: edge(s, -1), borderColor: 'rgba(0,0,0,0)', borderWidth: 0, pointRadius: 0, fill: false, order: 30 });
    datasets.push({ data: edge(s, 1), borderColor: 'rgba(0,0,0,0)', borderWidth: 0, pointRadius: 0, fill: '-1', backgroundColor: th.fill, order: 30 });
    datasets.push({ data: pts(s.mean), borderColor: th.solid, borderWidth: 2, pointRadius: 0, fill: false, order, clip: 0, borderJoinStyle: 'round' });
    datasets.push({ data: pts(bayes), borderColor: th.dashed, borderWidth: 1.3, borderDash: [5, 2.5], pointRadius: 0, fill: false, order: order - 1, clip: 0 });
  });
  const tickFont = { family: FONT, size: 12 };
  return {
    type: 'line',
    data: { datasets },
    plugins: [framePlugin],
    options: {
      animation: false,
      responsive: false,
      events: [],
      layout: { padding: { top: PAD_T, right: PAD_R, left: 0, bottom: 0 } },
      plugins: {
        legend: { display: false },
        tooltip: { enabled: false },
        filler: { drawTime: 'beforeDatasetsDraw' },
      },
      scales: {
        x: {
          type: 'linear',
          min: -5,
          max: 105,
          afterBuildTicks: (sc: any) => { sc.ticks = X_TICKS.map((v) => ({ value: v })); },
          afterFit: (sc: any) => { sc.height = PAD_B; sc.paddingLeft = 0; sc.paddingRight = 0; sc.paddingTop = 0; sc.paddingBottom = 0; },
          grid: { drawOnChartArea: false, drawTicks: true, tickLength: 4, color: AXIS_COLOR, lineWidth: 1 },
          border: { display: false },
          ticks: {
            display: row === 1,
            autoSkip: false,
            maxRotation: 0,
            padding: 2,
            color: '#1a1a1a',
            font: tickFont,
            callback: (v: any) => String(v),
          },
        },
        y: {
          type: 'linear',
          min: 0,
          max: 1,
          afterBuildTicks: (sc: any) => { sc.ticks = Y_TICKS.map((v) => ({ value: v })); },
          afterFit: (sc: any) => { sc.width = PAD_L; sc.paddingLeft = 0; sc.paddingRight = 0; sc.paddingTop = 0; sc.paddingBottom = 0; },
          grid: { drawOnChartArea: false, drawTicks: true, tickLength: 4, color: AXIS_COLOR, lineWidth: 1 },
          border: { display: false },
          ticks: {
            display: col === 0,
            autoSkip: false,
            padding: 3,
            color: '#1a1a1a',
            font: tickFont,
            callback: (v: any) => Number(v).toFixed(1),
          },
        },
      },
    },
  };
}

function Panel({ row, col }: { row: number; col: number }) {
  const ref = useRef<HTMLCanvasElement>(null);
  useEffect(() => {
    const chart = new Chart(ref.current as HTMLCanvasElement, buildConfig(row, col));
    return () => chart.destroy();
  }, [row, col]);
  const w = PANEL_W + PAD_L + PAD_R;
  const h = PANEL_H + PAD_T + PAD_B;
  return (
    <canvas
      ref={ref}
      width={w}
      height={h}
      style={{ position: 'absolute', left: PANEL_LEFT[col] - PAD_L, top: PANEL_TOP[row] - PAD_T, width: w, height: h }}
    />
  );
}

const LEGEND_ITEMS = [
  { key: 't25', dashed: false, x: 205, pre: '', post: ' = 0.25' },
  { key: 't25', dashed: true, x: 318, pre: 'Bayesian (', post: ' = 0.25)' },
  { key: 't50', dashed: false, x: 499, pre: '', post: ' = 0.5' },
  { key: 't50', dashed: true, x: 606, pre: 'Bayesian (', post: ' = 0.5)' },
  { key: 't75', dashed: false, x: 778, pre: '', post: ' = 0.75' },
  { key: 't75', dashed: true, x: 889, pre: 'Bayesian (', post: ' = 0.75)' },
];

export default function App() {
  return (
    <div style={{ position: 'absolute', left: 0, top: 0, width: 1251, height: 455, background: '#fff', fontFamily: FONT, color: '#000', overflow: 'hidden' }}>
      {MODELS.map((m, c) => (
        <div
          key={m}
          style={{ position: 'absolute', left: PANEL_LEFT[c], width: PANEL_W, top: 9, lineHeight: '15px', fontSize: 13, fontWeight: 'bold', textAlign: 'center', whiteSpace: 'nowrap' }}
        >
          {m}
        </div>
      ))}
      {ROW_LABELS.map((lines, r) => (
        <div
          key={r}
          style={{
            position: 'absolute',
            left: 20,
            top: PANEL_TOP[r] + PANEL_H / 2,
            transform: 'translate(-50%, -50%) rotate(-90deg)',
            fontSize: 12.5,
            lineHeight: '13.5px',
            textAlign: 'center',
            whiteSpace: 'nowrap',
            color: '#1a1a1a',
          }}
        >
          {lines[0]}
          <br />
          {lines[1]}
        </div>
      ))}
      {[0, 1].map((r) => [0, 1, 2, 3, 4, 5, 6].map((c) => <Panel key={`${r}-${c}`} row={r} col={c} />))}
      <div style={{ position: 'absolute', left: 0, width: 1251, top: 410, lineHeight: '20px', fontSize: 17, textAlign: 'center', color: '#1a1a1a' }}>
        {X_LABEL}
      </div>
      {LEGEND_ITEMS.map((it, i) => {
        const th = (THEMES as any)[it.key];
        return (
          <React.Fragment key={i}>
            <svg style={{ position: 'absolute', left: it.x, top: 441 }} width={27} height={10}>
              <line
                x1={0}
                y1={5}
                x2={27}
                y2={5}
                stroke={it.dashed ? th.dashed : th.solid}
                strokeWidth={it.dashed ? 1.3 : 2}
                strokeDasharray={it.dashed ? '5 2.5' : undefined}
              />
            </svg>
            <div style={{ position: 'absolute', left: it.x + 35, top: 439, fontSize: 12, lineHeight: '14px', whiteSpace: 'nowrap', color: '#1a1a1a' }}>
              {it.pre}
              <span style={{ fontStyle: 'italic' }}>θ</span>
              {it.post}
            </div>
          </React.Fragment>
        );
      })}
    </div>
  );
}
